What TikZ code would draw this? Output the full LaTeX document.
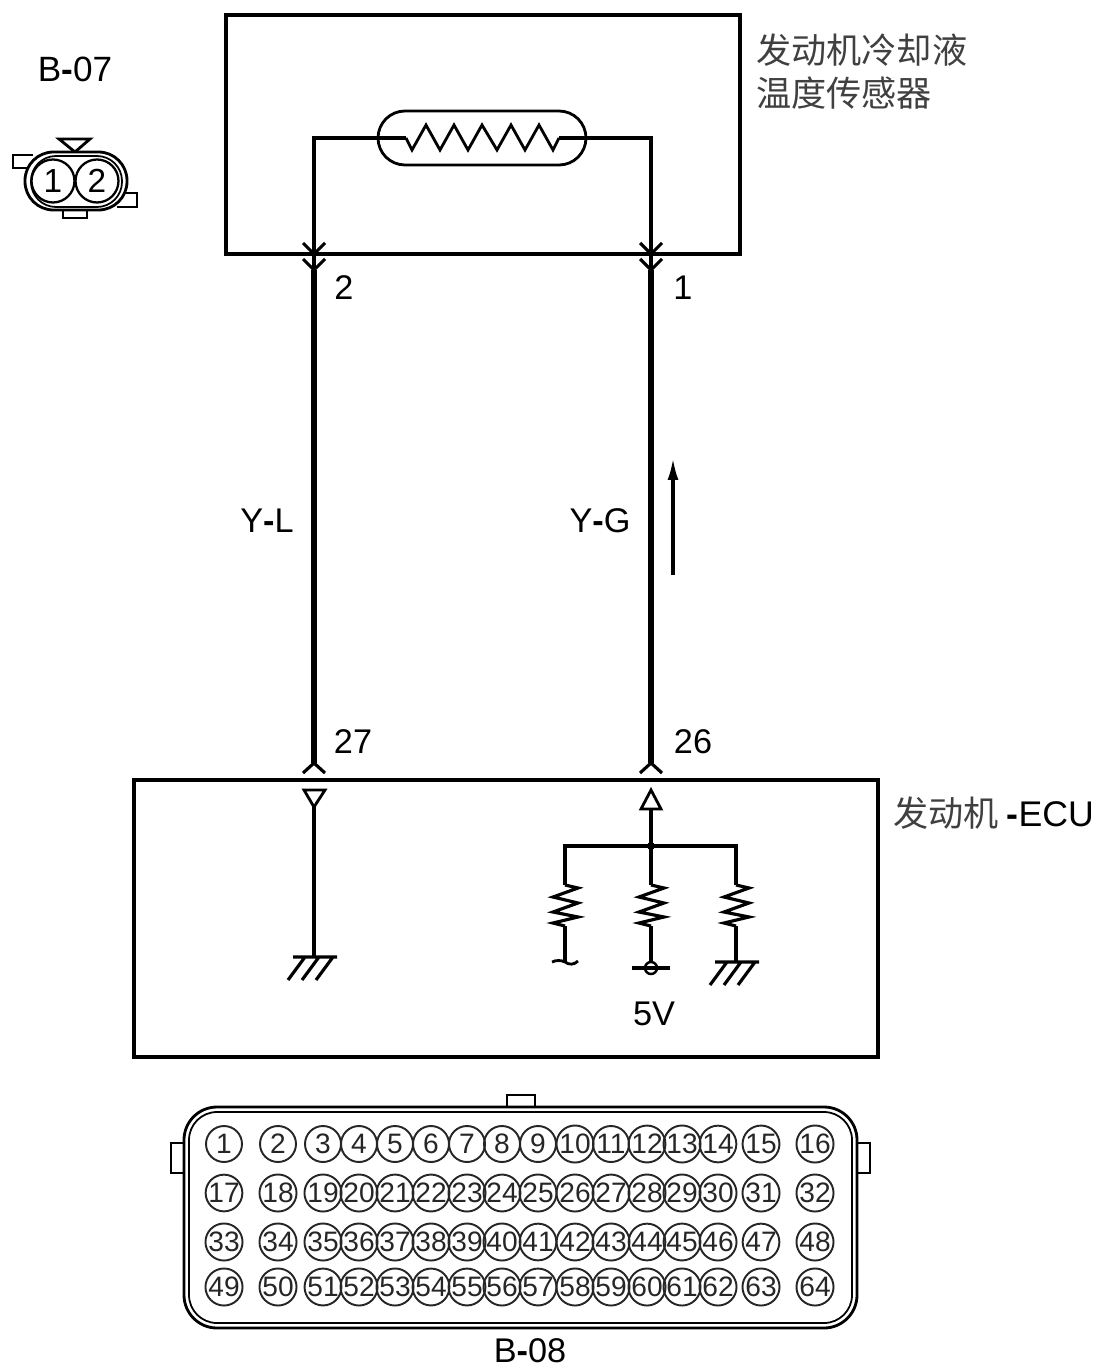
\documentclass[tikz,border=0pt]{standalone}
\usepackage{fontspec}
\setmainfont{Liberation Sans}
\newfontfamily\cjk{Noto Sans CJK SC}
\usetikzlibrary{arrows.meta}
\newcommand{\hy}{{\bfseries -}}
\tikzset{
	lbl/.style={inner sep=0pt,font=\fontsize{19.5}{22}\selectfont},
	zh/.style={inner sep=0pt,anchor=west,text=black!75,font=\cjk\fontsize{20}{22}\selectfont},
	pinball/.style={circle,draw=black!85,text=black!85,line width=1.1pt,minimum size=0.72cm,inner sep=0pt,font=\fontsize{16}{16}\selectfont},
	keyball/.style={circle,draw,line width=1.3pt,minimum size=0.86cm,inner sep=0pt,font=\fontsize{19}{19}\selectfont},
	thin wire/.style={line width=2pt},
	fat wire/.style={line width=3.4pt},
	resistor/.pic={\draw[line width=1.8pt,line join=miter] (0,0) -- (13,3) -- (-12,12) -- (13,18) -- (-12,27) -- (13,32) -- (-12,38) -- (0,41);},
	earth/.pic={\draw[line width=1.8pt] (-21,0) -- (23,0) (-9,0) -- (-26,23) (5,0) -- (-12,23) (19,0) -- (2,23);},
	chevron/.pic={\draw[line width=1.8pt] (-11,-11) -- (0,0) -- (11,-11);},
	chevronup/.pic={\draw[line width=1.8pt] (-11,10) -- (0,0) -- (11,10);}
}
\begin{document}
\begin{tikzpicture}[x=0.02cm,y=-0.02cm]
	\useasboundingbox (0,0) rectangle (1099,1371);

	% sensor
	\node[draw,line width=1.8pt,minimum width=10.28cm,minimum height=4.78cm,inner sep=0pt] (sensor) at (483,134.5) {};
	\node[zh] (sensorname1) at (756,50) {发动机冷却液};
	\node[zh] (sensorname2) at (756,93) {温度传感器};
	\node[draw,rounded corners=0.54cm,line width=1.6pt,minimum width=4.16cm,minimum height=1.08cm,inner sep=0pt] (capsule) at (482,138) {};
	\coordinate (s2) at (314,254);
	\coordinate (s1) at (651,254);
	\coordinate (z1) at (406,138);
	\coordinate (z2) at (559,138);
	\draw[thin wire] (s2) |- (z1);
	\draw[thin wire] (s1) |- (z2);
	\draw[line width=1.6pt] (z1) -- (412,150) -- (426,125) -- (440,150) -- (454,125) -- (468,150) -- (482,125) -- (497,150) -- (511,125) -- (525,150) -- (539,125) -- (553,150) -- (z2);

	% wires
	\coordinate (e27) at (314,763);
	\coordinate (e26) at (651,763);
	\coordinate (t2) at (314,270);
	\coordinate (t1) at (651,270);
	\draw[thin wire] (s2) -- (t2);
	\draw[thin wire] (s1) -- (t1);
	\draw[fat wire] (t2) -- (e27);
	\draw[fat wire] (t1) -- (e26);
	\foreach \n in {s2,s1,t2,t1}
	\pic at (\n) {chevron};
	\foreach \n in {e27,e26}
	\pic at (\n) {chevronup};
	\node[lbl] (n2) at (344,288) {2};
	\node[lbl] (n1) at (683,288) {1};
	\node[lbl] (n27) at (353,742) {27};
	\node[lbl] (n26) at (693,742) {26};
	\node[lbl] (yl) at (267,521) {Y\hy L};
	\node[lbl] (yg) at (600,521) {Y\hy G};
	\coordinate (fa) at (673,575);
	\coordinate (fb) at (673,458);
	\draw[-{Latex[length=0.44cm,width=0.22cm]},line width=1.8pt] (fa) -- (fb);

	% ecu
	\node[draw,line width=1.8pt,minimum width=14.88cm,minimum height=5.54cm,inner sep=0pt] (ecu) at (506,918.5) {};
	\node[zh] (ecuname) at (893,813) {发动机 \textcolor{black}{\rmfamily\fontsize{20.3}{22}\selectfont\hy ECU}};
	\coordinate (a27) at (314,807);
	\coordinate (g27) at (314,957);
	\draw[line width=1.6pt] (304,790) -- (325,790) -- (a27) -- cycle;
	\draw[thin wire] (a27) -- (g27);
	\pic at (g27) {earth};
	\coordinate (a26) at (651,809);
	\coordinate (jn) at (651,846);
	\draw[line width=1.6pt] (641,809) -- (661,809) -- (651,790) -- cycle;
	\draw[thin wire] (a26) -- (jn);
	\fill (jn) circle (4);
	\coordinate (ba) at (565,846);
	\coordinate (bc) at (736,846);
	\coordinate (ra) at (565,885);
	\coordinate (rb) at (651,885);
	\coordinate (rc) at (736,885);
	\coordinate (ea) at (565,962);
	\coordinate (eb) at (651,962);
	\coordinate (ec) at (736,962);
	\coordinate (vc) at (651,968);
	\draw[thin wire] (ra) -- (ba) -- (bc) -- (rc);
	\draw[thin wire] (jn) -- (rb);
	\foreach \n in {ra,rb,rc}
	\pic at (\n) {resistor};
	\draw[thin wire] (565,926) -- (ea);
	\draw[thin wire] (651,926) -- (eb);
	\draw[thin wire] (736,926) -- (ec);
	\draw[line width=1.6pt] (552,962) .. controls (556,960) and (561,960) .. (ea) .. controls (569,965) and (574,965) .. (578,961);
	\draw[line width=1.8pt] (632,968) -- (670,968);
	\draw[line width=1.4pt] (vc) circle (6);
	\pic at (ec) {earth};
	\node[lbl] (fivev) at (654,1014) {5V};

	% B-07
	\node[lbl,font=\fontsize{20}{22}\selectfont] (b07) at (75,69) {B\hy 07};
	\draw[line width=1.6pt] (33,155) -- (13,155) -- (13,168) -- (33,168);
	\draw[line width=1.6pt] (117,193) -- (137,193) -- (137,207) -- (117,207);
	\draw[line width=1.6pt] (63,208) -- (63,218) -- (87,218) -- (87,208);
	\draw[line width=1.6pt] (59,139) -- (90,139) -- (75,152) -- cycle;
	\draw[line width=1.6pt,fill=white,rounded corners=0.57cm] (25,152) rectangle (127,210);
	\draw[line width=1pt,rounded corners=0.5cm] (31,156) rectangle (122,207);
	\node[keyball] (k1) at (53,181) {1};
	\node[keyball] (k2) at (97,181) {2};

	% B-08
	\node[lbl] (b08) at (530,1351) {B\hy 08};
	\draw[line width=1.5pt] (507,1108) -- (507,1095) -- (535,1095) -- (535,1108);
	\draw[line width=1.5pt] (185,1143) -- (171,1143) -- (171,1173) -- (185,1173);
	\draw[line width=1.5pt] (856,1143) -- (870,1143) -- (870,1173) -- (856,1173);
	\draw[line width=1.6pt,rounded corners=0.66cm] (184,1107) rectangle (857,1328);
	\draw[line width=1pt,rounded corners=0.56cm] (189,1112) rectangle (852,1323);
	\foreach \yy/\off in {1144/0,1193/16,1242/32,1287/48}
	\foreach \x [count=\c] in {224,278,323,359,395,431,467,502,538,575,611,647,682,718,761,815}
	{
		\pgfmathtruncatemacro{\n}{\c+\off}
		\node[pinball] (pin\n) at (\x,\yy) {\n};
	}
\end{tikzpicture}
\end{document}
